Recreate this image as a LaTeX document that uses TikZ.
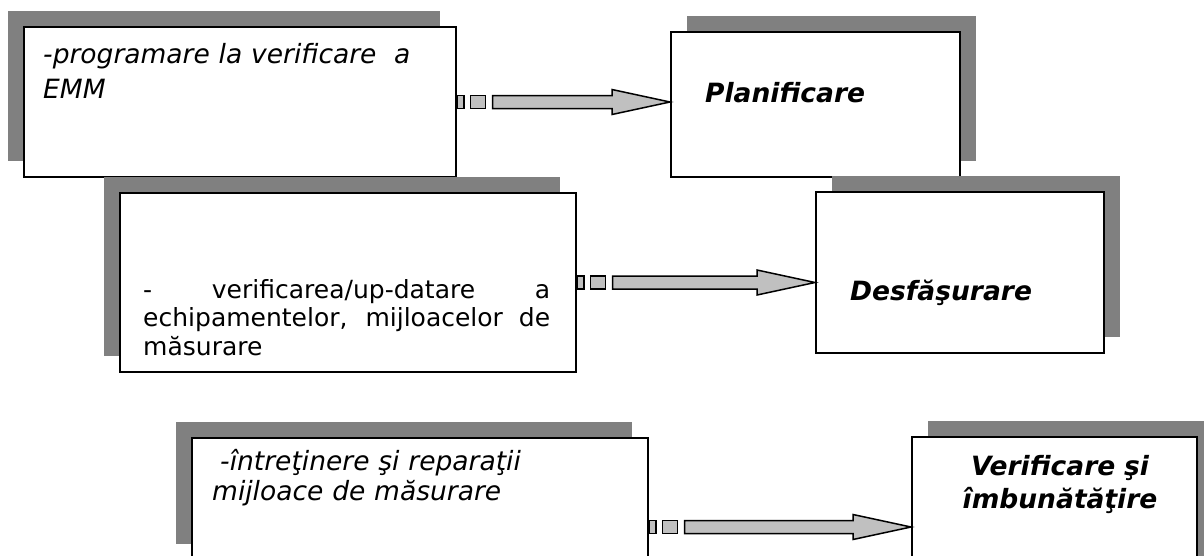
\documentclass[tikz,border=0pt]{standalone}
\usepackage{fontspec}
\setmainfont{DejaVu Sans}
\usetikzlibrary{calc, shadows}
\usepackage{xcolor}
\definecolor{sg}{HTML}{808080}
\definecolor{af}{HTML}{C0C0C0}

% arrow with two small squares at its tail, #1 = tail point, #2 = tip
\newcommand\stripedarrow[2]{%
  \path (#1) coordinate (ta) (#2) coordinate (tb);
  \filldraw[stripe] (ta) ++(0,-6.5) rectangle ++(7,13);
  \filldraw[stripe] (ta) ++(13.5,-6.5) rectangle ++(15,13);
  \filldraw[stripe] ($(ta)+(35.5,-6.5)$) -- ($(tb)+(-58,-6.5)$) -- ++(0,-6) -- (tb)
    -- ($(tb)+(-58,12.5)$) -- ++(0,-6) -- ($(ta)+(35.5,6.5)$) -- cycle;
}

\begin{document}
\begin{tikzpicture}[x=1pt, y=-1pt,
    box/.style={draw, line width=2pt, fill=white, inner sep=0pt},
    lbox/.style={box, drop shadow={shadow xshift=-16pt, shadow yshift=16pt, opacity=1, fill=sg}},
    rbox/.style={box, drop shadow={shadow xshift=16pt, shadow yshift=16pt, opacity=1, fill=sg}},
    it/.style={font=\fontsize{26.5}{#1}\selectfont\itshape, inner sep=0pt},
    up/.style={font=\fontsize{25}{28.5}\selectfont, inner sep=0pt},
    bi/.style={font=\fontsize{26.5}{33}\selectfont\bfseries\itshape, inner sep=0pt},
    stripe/.style={fill=af, draw=black, line width=1.5pt}]
  \useasboundingbox (0,0) rectangle (1204,555);

  \node[lbox, minimum width=432pt, minimum height=150pt] (emm) at (240,102) {};
  \node[rbox, minimum width=289pt, minimum height=145pt] (plan) at (815.5,104.5) {};
  \node[lbox, minimum width=456pt, minimum height=179pt] (verif) at (348,282.5) {};
  \node[rbox, minimum width=288pt, minimum height=161pt] (desf) at (960,272.5) {};
  \node[lbox, minimum width=456pt, minimum height=122pt] (repar) at (420,499) {};
  \node[rbox, minimum width=285pt, minimum height=180pt] (imbun) at (1054.5,527) {};

  \node[it=35, anchor=base west, text width=410pt] (emmtxt) at (43,63)
    {-programare la verificare\ \ a\\EMM};
  \node[up, anchor=base west, text width=407pt, align=justify] (veriftxt) at (143,298)
    {- verificarea/up-datare a\linebreak echipamentelor, mijloacelor de\linebreak măsurare};
  \node[it=30, anchor=base west, text width=420pt] (repartxt) at (212,470)
    {\hspace{8pt}-întreţinere şi reparaţii\\mijloace de măsurare};
  \node[bi, anchor=base west] (plantxt) at (705,102) {Planificare};
  \node[bi, anchor=base west] (desftxt) at (850,300) {Desfăşurare};
  \node[bi, anchor=base, text width=285pt, align=center] (imbuntxt) at (1060,475)
    {Verificare şi\\îmbunătăţire};

  \stripedarrow{emm.east}{emm.east -| plan.west}
  \stripedarrow{verif.east}{verif.east -| desf.west}
  \stripedarrow{repar.east |- imbun.west}{imbun.west}
\end{tikzpicture}
\end{document}
